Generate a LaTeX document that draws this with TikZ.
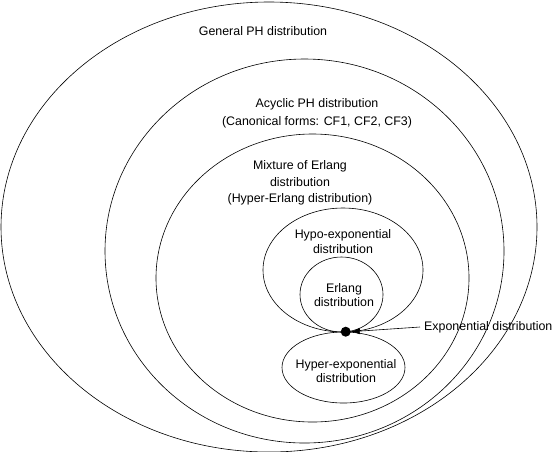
\documentclass[tikz,border=0pt]{standalone}
\usepackage{fontspec}
\setmainfont{Liberation Sans}
\usepackage{tikz}
\usetikzlibrary{shapes,arrows,arrows.meta}
\tikzstyle{region} = [ellipse, draw, line width=0.6pt, inner sep=0pt, outer sep=0pt]
\tikzstyle{txt} = [align=center, inner sep=2pt, font=\fontsize{12.4}{14.6}\selectfont]
\tikzstyle{dot} = [circle, fill=black, inner sep=0pt, minimum size=10pt]
\tikzstyle{line} = [draw, line width=0.6pt, -{Latex[length=9pt,width=6.5pt]}]

\begin{document}
\begin{tikzpicture}[x=1pt, y=-1pt]
    \useasboundingbox (0,0) rectangle (553,451);
    % Place regions
    \node [region, minimum width=536pt, minimum height=450pt] (general) at (269,227) {};
    \node [region, minimum width=399pt, minimum height=384pt] (acyclic) at (304.5,251) {};
    \node [region, minimum width=313pt, minimum height=288pt] (mixture) at (312.5,278) {};
    \node [region, minimum width=160pt, minimum height=124pt] (hypo) at (343,270) {};
    \node [region, minimum width=83pt, minimum height=75pt] (erlang) at (341.5,294.5) {};
    \node [region, minimum width=123pt, minimum height=71pt] (hyper) at (343.5,367.5) {};
    \node [dot] (expo) at (345.7,331.7) {};
    % Place labels
    \node [txt] (generallabel) at (263,31) {General PH distribution};
    \node [txt] (acycliclabel) at (317,113) {Acyclic PH distribution\\[3pt](Canonical forms: CF1, CF2, CF3)};
    \node [txt] (mixturelabel) at (300,183) {Mixture of Erlang\\[2pt]distribution\\[2pt](Hyper-Erlang distribution)};
    \node [txt] (hypolabel) at (343,241.5) {Hypo-exponential\\distribution};
    \node [txt] (erlanglabel) at (344,295) {Erlang\\distribution};
    \node [txt] (hyperlabel) at (346,371) {Hyper-exponential\\distribution};
    \node [txt, anchor=west, inner sep=4pt] (expolabel) at (420,327) {Exponential distribution};
    % Draw edges
    \path [line] (expolabel.west) -- (expo.east);
\end{tikzpicture}
\end{document}
